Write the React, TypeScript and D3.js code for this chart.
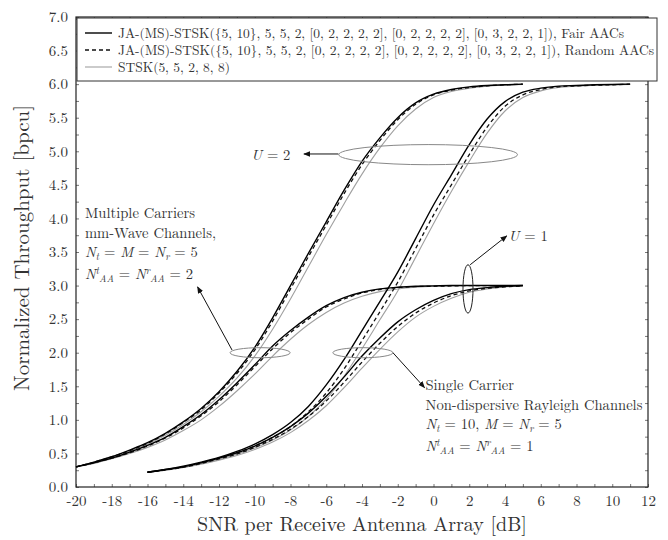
import React, { Component } from "react";
import * as d3 from "d3";

// SNR grids [dB]
const snrMC = [-20, -19, -18, -17, -16, -15, -14, -13, -12, -11, -10, -9, -8, -7, -6, -5, -4, -3, -2, -1, 0, 1, 2, 3, 4, 5];
const snrSC1 = [-16, -15, -14, -13, -12, -11, -10, -9, -8, -7, -6, -5, -4, -3, -2, -1, 0, 1, 2, 3, 4, 5];
const snrSC2 = [-16, -15, -14, -13, -12, -11, -10, -9, -8, -7, -6, -5, -4, -3, -2, -1, 0, 1, 2, 3, 4, 5, 6, 7, 8, 9, 10, 11];

// multiple carriers, mm-wave, U = 2
const mcU2Fair = [0.3, 0.37, 0.45, 0.55, 0.66, 0.8, 0.97, 1.17, 1.42, 1.72, 2.08, 2.52, 3.0, 3.48, 3.95, 4.42, 4.85, 5.2, 5.5, 5.72, 5.85, 5.92, 5.96, 5.98, 5.99, 6.0];
const mcU2Rand = [0.3, 0.37, 0.45, 0.54, 0.65, 0.79, 0.96, 1.15, 1.4, 1.69, 2.04, 2.47, 2.95, 3.43, 3.9, 4.37, 4.8, 5.16, 5.47, 5.7, 5.84, 5.91, 5.95, 5.975, 5.99, 6.0];
const mcU2Stsk = [0.3, 0.36, 0.44, 0.53, 0.64, 0.77, 0.93, 1.12, 1.35, 1.62, 1.95, 2.35, 2.8, 3.28, 3.76, 4.22, 4.66, 5.05, 5.38, 5.63, 5.8, 5.89, 5.94, 5.97, 5.985, 5.995];
// multiple carriers, mm-wave, U = 1
const mcU1Fair = [0.3, 0.36, 0.43, 0.52, 0.62, 0.74, 0.9, 1.08, 1.3, 1.55, 1.82, 2.1, 2.33, 2.53, 2.7, 2.82, 2.9, 2.95, 2.975, 2.99, 2.995, 3.0, 3.0, 3.0, 3.0, 3.0];
const mcU1Rand = [0.3, 0.36, 0.43, 0.51, 0.61, 0.73, 0.88, 1.06, 1.27, 1.52, 1.79, 2.06, 2.3, 2.5, 2.68, 2.8, 2.89, 2.94, 2.97, 2.985, 2.99, 2.995, 3.0, 3.0, 3.0, 3.0];
const mcU1Stsk = [0.3, 0.35, 0.42, 0.5, 0.59, 0.7, 0.84, 1.0, 1.2, 1.43, 1.68, 1.95, 2.2, 2.42, 2.6, 2.74, 2.84, 2.91, 2.95, 2.975, 2.99, 2.995, 3.0, 3.0, 3.0, 3.0];
// single carrier, Rayleigh, U = 2
const scU2Fair = [0.22, 0.26, 0.31, 0.37, 0.44, 0.53, 0.64, 0.78, 0.96, 1.2, 1.52, 1.9, 2.33, 2.76, 3.2, 3.7, 4.2, 4.65, 5.1, 5.48, 5.74, 5.88, 5.94, 5.97, 5.98, 5.99, 5.995, 6.0];
const scU2Rand = [0.22, 0.255, 0.3, 0.36, 0.43, 0.51, 0.61, 0.74, 0.9, 1.12, 1.4, 1.76, 2.18, 2.61, 3.05, 3.55, 4.05, 4.5, 4.95, 5.36, 5.67, 5.84, 5.92, 5.96, 5.975, 5.985, 5.99, 6.0];
const scU2Stsk = [0.22, 0.25, 0.29, 0.35, 0.41, 0.49, 0.58, 0.7, 0.85, 1.05, 1.31, 1.65, 2.06, 2.49, 2.92, 3.42, 3.92, 4.4, 4.85, 5.27, 5.6, 5.8, 5.9, 5.95, 5.97, 5.985, 5.99, 5.995];
// single carrier, Rayleigh, U = 1
const scU1Fair = [0.22, 0.26, 0.3, 0.36, 0.43, 0.51, 0.61, 0.74, 0.9, 1.1, 1.35, 1.64, 1.95, 2.22, 2.46, 2.64, 2.78, 2.88, 2.94, 2.97, 2.99, 3.0];
const scU1Rand = [0.22, 0.255, 0.295, 0.35, 0.42, 0.49, 0.59, 0.71, 0.86, 1.05, 1.28, 1.56, 1.86, 2.14, 2.39, 2.59, 2.74, 2.85, 2.92, 2.96, 2.98, 2.995];
const scU1Stsk = [0.22, 0.25, 0.29, 0.34, 0.4, 0.47, 0.56, 0.67, 0.81, 0.99, 1.21, 1.48, 1.77, 2.05, 2.31, 2.53, 2.69, 2.81, 2.9, 2.95, 2.98, 2.995];

const xTickValues = [-20, -18, -16, -14, -12, -10, -8, -6, -4, -2, 0, 2, 4, 6, 8, 10, 12];
const yTickValues = [0, 0.5, 1, 1.5, 2, 2.5, 3, 3.5, 4, 4.5, 5, 5.5, 6, 6.5, 7];

const legendLabels = [
  "JA-(MS)-STSK({5, 10}, 5, 5, 2, [0, 2, 2, 2, 2], [0, 2, 2, 2, 2], [0, 3, 2, 2, 1]), Fair AACs",
  "JA-(MS)-STSK({5, 10}, 5, 5, 2, [0, 2, 2, 2, 2], [0, 2, 2, 2, 2], [0, 3, 2, 2, 1]), Random AACs",
  "STSK(5, 5, 2, 8, 8)",
];
const legendWidths = [506, 536, 112];

const FONT = '"Latin Modern Roman", "Liberation Serif", serif';
const TXT = "#333";

type Seg = { t: string; it?: boolean; sub?: boolean; sup?: boolean; dx?: number };

class App extends Component {
  svgRef: React.RefObject<SVGSVGElement>;
  constructor(props: any) {
    super(props);
    this.svgRef = React.createRef();
  }

  componentDidMount() {
    this.drawChart();
  }

  componentDidUpdate() {
    this.drawChart();
  }

  drawChart() {
    const width = 668;
    const height = 540;
    const margin = { top: 17, right: 20, bottom: 53, left: 76 };

    const svg = d3.select(this.svgRef.current)
      .attr("width", width)
      .attr("height", height);
    svg.selectAll("*").remove();

    const x = d3.scaleLinear().domain([-20, 12]).range([margin.left, width - margin.right]);
    const y = d3.scaleLinear().domain([0, 7]).range([height - margin.bottom, margin.top]);

    svg.append("rect").attr("width", width).attr("height", height).attr("fill", "#fff");

    const defs = svg.append("defs");
    defs.append("marker")
      .attr("id", "arr")
      .attr("viewBox", "0 0 10 10")
      .attr("refX", 9)
      .attr("refY", 5)
      .attr("markerWidth", 7)
      .attr("markerHeight", 7)
      .attr("markerUnits", "userSpaceOnUse")
      .attr("orient", "auto")
      .append("path")
      .attr("d", "M0,1 L10,5 L0,9 Z")
      .attr("fill", "#111");

    // axes with inward ticks
    const xMinor = d3.range(-20, 13, 1);
    const yMinor = d3.range(0, 7.01, 0.25);
    const bottom = svg.append("g")
      .attr("transform", `translate(0, ${y(0)})`)
      .call(d3.axisBottom(x).tickValues(xMinor).tickSizeInner(-3).tickSizeOuter(0).tickPadding(8)
        .tickFormat((d: any) => (xTickValues.includes(d) ? String(d) : "")));
    const left = svg.append("g")
      .attr("transform", `translate(${x(-20)}, 0)`)
      .call(d3.axisLeft(y).tickValues(yMinor).tickSizeInner(-3).tickSizeOuter(0).tickPadding(8)
        .tickFormat((d: any) => (yTickValues.includes(d) ? d3.format(".1f")(d) : "")));
    const top = svg.append("g")
      .attr("transform", `translate(0, ${y(7)})`)
      .call(d3.axisTop(x).tickValues(xMinor).tickSizeInner(-3).tickSizeOuter(0).tickFormat(() => ""));
    const right = svg.append("g")
      .attr("transform", `translate(${x(12)}, 0)`)
      .call(d3.axisRight(y).tickValues(yMinor).tickSizeInner(-3).tickSizeOuter(0).tickFormat(() => ""));
    [bottom, left, top, right].forEach((g) => {
      g.select(".domain").remove();
      g.selectAll("line").attr("stroke", "#555").attr("stroke-width", 0.8);
      g.selectAll("text").attr("fill", TXT).style("font-family", FONT).style("font-size", "15px");
    });

    svg.append("rect")
      .attr("x", x(-20)).attr("y", y(7))
      .attr("width", x(12) - x(-20)).attr("height", y(0) - y(7))
      .attr("fill", "none").attr("stroke", "#222").attr("stroke-width", 1.2);

    // curves
    const line = d3.line<[number, number]>()
      .x((d) => x(d[0]))
      .y((d) => y(d[1]))
      .curve(d3.curveMonotoneX);
    const zip = (xs: number[], ys: number[]) => xs.map((v, i) => [v, ys[i]] as [number, number]);
    const styles = {
      stsk: { stroke: "#a0a0a0", width: 1.1, dash: null },
      rand: { stroke: "#111", width: 1.3, dash: "4,3" },
      fair: { stroke: "#000", width: 1.4, dash: null },
    };
    const series = [
      { xs: snrMC, ys: mcU2Stsk, s: styles.stsk },
      { xs: snrMC, ys: mcU1Stsk, s: styles.stsk },
      { xs: snrSC2, ys: scU2Stsk, s: styles.stsk },
      { xs: snrSC1, ys: scU1Stsk, s: styles.stsk },
      { xs: snrMC, ys: mcU2Rand, s: styles.rand },
      { xs: snrMC, ys: mcU1Rand, s: styles.rand },
      { xs: snrSC2, ys: scU2Rand, s: styles.rand },
      { xs: snrSC1, ys: scU1Rand, s: styles.rand },
      { xs: snrMC, ys: mcU2Fair, s: styles.fair },
      { xs: snrMC, ys: mcU1Fair, s: styles.fair },
      { xs: snrSC2, ys: scU2Fair, s: styles.fair },
      { xs: snrSC1, ys: scU1Fair, s: styles.fair },
    ];
    series.forEach((d) => {
      svg.append("path")
        .attr("d", line(zip(d.xs, d.ys)))
        .attr("fill", "none")
        .attr("stroke", d.s.stroke)
        .attr("stroke-width", d.s.width)
        .attr("stroke-dasharray", d.s.dash);
    });

    // ellipses and arrows (data units)
    const ellipses = [
      { cx: -0.3, cy: 4.95, rx: 5.0, ry: 0.15, c: "#888" },
      { cx: 1.93, cy: 2.95, rx: 0.28, ry: 0.36, c: "#222" },
      { cx: -9.7, cy: 2.0, rx: 1.68, ry: 0.075, c: "#888" },
      { cx: -3.95, cy: 2.0, rx: 1.68, ry: 0.075, c: "#888" },
    ];
    ellipses.forEach((e) => {
      svg.append("ellipse")
        .attr("cx", x(e.cx)).attr("cy", y(e.cy))
        .attr("rx", x(e.rx) - x(0)).attr("ry", y(0) - y(e.ry))
        .attr("fill", "none").attr("stroke", e.c).attr("stroke-width", 1);
    });
    const arrows = [
      [-5.32, 4.96, -7.25, 4.96],
      [2.05, 3.31, 4.1, 3.74],
      [-11.27, 2.04, -13.2, 2.98],
      [-2.27, 2.0, -0.5, 1.48],
    ];
    arrows.forEach((a) => {
      svg.append("line")
        .attr("x1", x(a[0])).attr("y1", y(a[1]))
        .attr("x2", x(a[2])).attr("y2", y(a[3]))
        .attr("stroke", "#111").attr("stroke-width", 1)
        .attr("marker-end", "url(#arr)");
    });

    // math-ish text helper
    const mathText = (px: number, py: number, segs: Seg[], size: number) => {
      const t = svg.append("text").attr("x", px).attr("y", py)
        .attr("fill", TXT).style("font-family", FONT).style("font-size", size + "px");
      let shift = 0;
      segs.forEach((s) => {
        const target = s.sub ? 0.22 * size : s.sup ? -0.35 * size : 0;
        const ts = t.append("tspan").text(s.t).attr("dy", target - shift);
        if (s.dx) ts.attr("dx", s.dx);
        if (s.it) ts.style("font-style", "italic");
        if (s.sub || s.sup) ts.style("font-size", size * 0.68 + "px");
        shift = target;
      });
    };

    const fs = 14.6;
    mathText(x(-10.2), y(4.95) + 5, [{ t: "U", it: true }, { t: " = 2" }], fs);
    mathText(x(4.2), y(3.74) + 5, [{ t: "U", it: true }, { t: " = 1" }], fs);

    const mcX = x(-19.5);
    mathText(mcX, 218, [{ t: "Multiple Carriers" }], fs);
    mathText(mcX, 238, [{ t: "mm-Wave Channels," }], fs);
    mathText(mcX, 257, [{ t: "N", it: true }, { t: "t", it: true, sub: true }, { t: " = " }, { t: "M", it: true }, { t: " = " }, { t: "N", it: true }, { t: "r", it: true, sub: true }, { t: " = 5" }], fs);
    mathText(mcX, 279, [{ t: "N", it: true }, { t: "t", it: true, sup: true }, { t: "AA", it: true, sub: true }, { t: " = " }, { t: "N", it: true }, { t: "r", it: true, sup: true }, { t: "AA", it: true, sub: true }, { t: " = 2" }], fs);

    const scX = x(-0.45);
    mathText(scX, 390, [{ t: "Single Carrier" }], fs);
    mathText(scX, 410, [{ t: "Non-dispersive Rayleigh Channels" }], fs);
    mathText(scX, 429, [{ t: "N", it: true }, { t: "t", it: true, sub: true }, { t: " = 10, " }, { t: "M", it: true }, { t: " = " }, { t: "N", it: true }, { t: "r", it: true, sub: true }, { t: " = 5" }], fs);
    mathText(scX, 451, [{ t: "N", it: true }, { t: "t", it: true, sup: true }, { t: "AA", it: true, sub: true }, { t: " = " }, { t: "N", it: true }, { t: "r", it: true, sup: true }, { t: "AA", it: true, sub: true }, { t: " = 1" }], fs);

    // legend
    const lg = svg.append("g");
    lg.append("rect")
      .attr("x", x(-20) + 1).attr("y", y(7) + 1)
      .attr("width", 580).attr("height", 63)
      .attr("fill", "#fff").attr("stroke", "#333").attr("stroke-width", 1);
    const legStyles = [styles.fair, styles.rand, styles.stsk];
    legendLabels.forEach((label, i) => {
      const ly = 33 + i * 17;
      lg.append("line")
        .attr("x1", 85).attr("x2", 112).attr("y1", ly).attr("y2", ly)
        .attr("stroke", legStyles[i].stroke).attr("stroke-width", legStyles[i].width)
        .attr("stroke-dasharray", legStyles[i].dash);
      lg.append("text")
        .attr("x", 118).attr("y", ly + 5)
        .attr("textLength", legendWidths[i]).attr("lengthAdjust", "spacing")
        .attr("fill", TXT).style("font-family", FONT).style("font-size", "13.5px")
        .text(label);
    });

    // axis titles
    svg.append("text")
      .attr("x", (x(-20) + x(12)) / 2).attr("y", 531)
      .attr("text-anchor", "middle")
      .attr("fill", TXT).style("font-family", FONT).style("font-size", "20px")
      .text("SNR per Receive Antenna Array [dB]");
    svg.append("text")
      .attr("transform", "rotate(-90)")
      .attr("x", -(y(0) + y(7)) / 2 + 4).attr("y", 29)
      .attr("text-anchor", "middle")
      .attr("fill", TXT).style("font-family", FONT).style("font-size", "21px")
      .text("Normalized Throughput [bpcu]");
  }

  render() {
    return <svg ref={this.svgRef} style={{ position: "absolute", left: 0, top: 0 }}></svg>;
  }
}

export default App;
